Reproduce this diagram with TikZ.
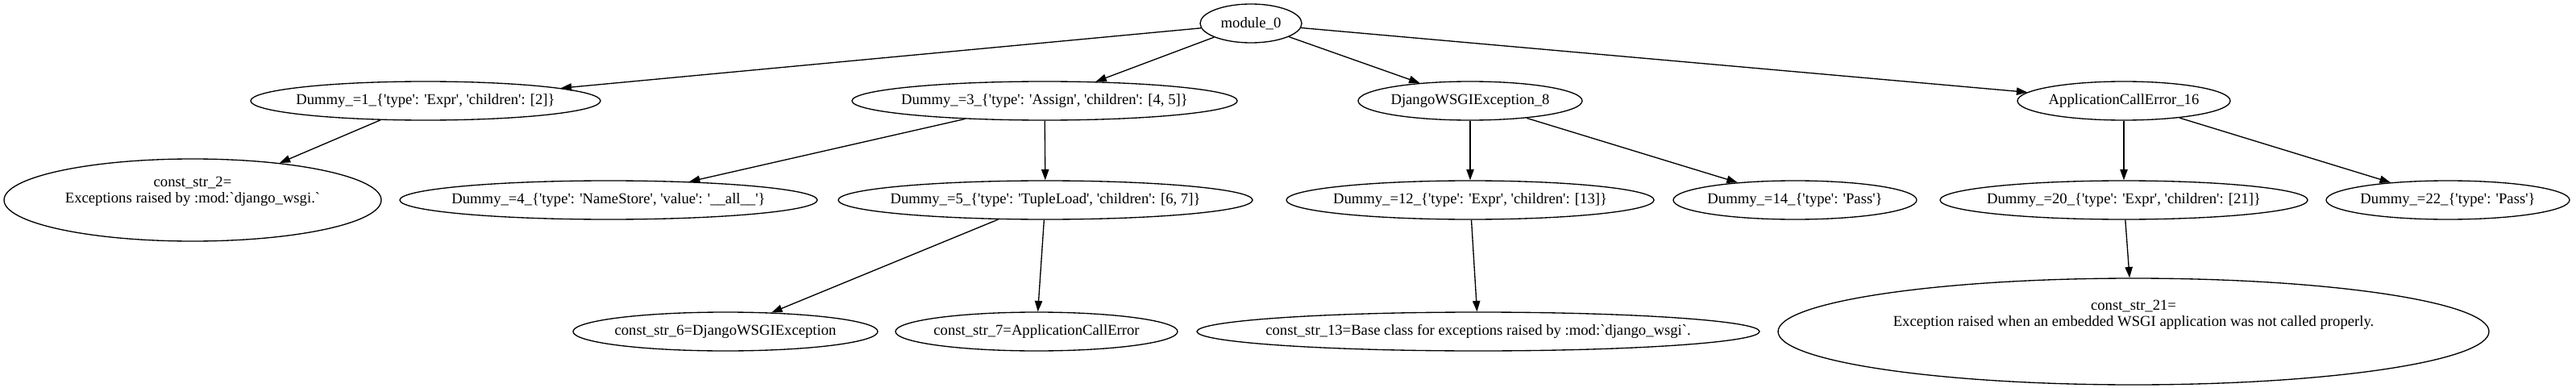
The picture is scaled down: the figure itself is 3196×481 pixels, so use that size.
\documentclass[tikz,border=0pt]{standalone}
\usepackage{fontspec}
\setmainfont{Liberation Serif}[Ligatures=TeXOff]
\usetikzlibrary{shapes.geometric,arrows.meta}

\tikzset{
    ovalsize/.style 2 args={
        minimum width=#1*0.75pt,
        minimum height=#2*0.75pt
    }
}

\begin{document}
\begin{tikzpicture}[%
    x=0.75pt,
    y=-0.75pt,
    line width=1pt,
    astnode/.style={
        ellipse,
        draw=black,
        inner xsep=-20pt,
        inner ysep=0pt,
        align=center,
        font=\fontsize{14pt}{15pt}\selectfont
    },
    astedge/.style={
        -{Triangle[length=10pt,width=7pt]}
    }
]
    % Fix the size of the picture.
    \useasboundingbox (0,0) rectangle (3196,481);

    % Root of the tree.
    \node[astnode, ovalsize={126}{48}] (module0) at (1552,29) {module\_0};

    % First level.
    \node[astnode, ovalsize={434}{48}] (dummy1) at (528,125)
        {Dummy\_=1\_\{'type': 'Expr', 'children': [2]\}};
    \node[astnode, ovalsize={478}{48}] (dummy3) at (1296,125)
        {Dummy\_=3\_\{'type': 'Assign', 'children': [4, 5]\}};
    \node[astnode, ovalsize={278}{48}] (djangoexc8) at (1824,125)
        {DjangoWSGIException\_8};
    \node[astnode, ovalsize={264}{48}] (appcallerr16) at (2635,125)
        {ApplicationCallError\_16};

    % Second level.
    \node[astnode, ovalsize={468}{102}] (conststr2) at (239,248)
        {const\_str\_2=\\Exceptions raised by :mod:`django\_wsgi.`\\\strut};
    \node[astnode, ovalsize={518}{48}] (dummy4) at (755,248)
        {Dummy\_=4\_\{'type': 'NameStore', 'value': '\_\_all\_\_'\}};
    \node[astnode, ovalsize={514}{48}] (dummy5) at (1297,248)
        {Dummy\_=5\_\{'type': 'TupleLoad', 'children': [6, 7]\}};
    \node[astnode, ovalsize={456}{48}] (dummy12) at (1824,248)
        {Dummy\_=12\_\{'type': 'Expr', 'children': [13]\}};
    \node[astnode, ovalsize={302}{48}] (dummy14) at (2227,248)
        {Dummy\_=14\_\{'type': 'Pass'\}};
    \node[astnode, ovalsize={456}{48}] (dummy20) at (2635,248)
        {Dummy\_=20\_\{'type': 'Expr', 'children': [21]\}};
    \node[astnode, ovalsize={302}{48}] (dummy22) at (3037,248)
        {Dummy\_=22\_\{'type': 'Pass'\}};

    % Third level.
    \node[astnode, ovalsize={378}{48}] (conststr6) at (900,411)
        {const\_str\_6=DjangoWSGIException};
    \node[astnode, ovalsize={350}{48}] (conststr7) at (1286,411)
        {const\_str\_7=ApplicationCallError};
    \node[astnode, ovalsize={698}{48}] (conststr13) at (1834,411)
        {const\_str\_13=Base class for exceptions raised by :mod:`django\_wsgi`.};
    \node[astnode, ovalsize={882}{132}] (conststr21) at (2647,411)
        {const\_str\_21=\\Exception raised when an embedded WSGI application was not called properly.\\\strut\\\strut};

    % Edges from the root.
    \draw[astedge] (module0) -- (dummy1);
    \draw[astedge] (module0) -- (dummy3);
    \draw[astedge] (module0) -- (djangoexc8);
    \draw[astedge] (module0) -- (appcallerr16);

    % Edges below the first level.
    \draw[astedge] (dummy1) -- (conststr2);
    \draw[astedge] (dummy3) -- (dummy4);
    \draw[astedge] (dummy3) -- (dummy5);
    \draw[astedge] (djangoexc8) -- (dummy12);
    \draw[astedge] (djangoexc8) -- (dummy14);
    \draw[astedge] (appcallerr16) -- (dummy20);
    \draw[astedge] (appcallerr16) -- (dummy22);

    % Edges below the second level.
    \draw[astedge] (dummy5) -- (conststr6);
    \draw[astedge] (dummy5) -- (conststr7);
    \draw[astedge] (dummy12) -- (conststr13);
    \draw[astedge] (dummy20) -- (conststr21);
\end{tikzpicture}
\end{document}
